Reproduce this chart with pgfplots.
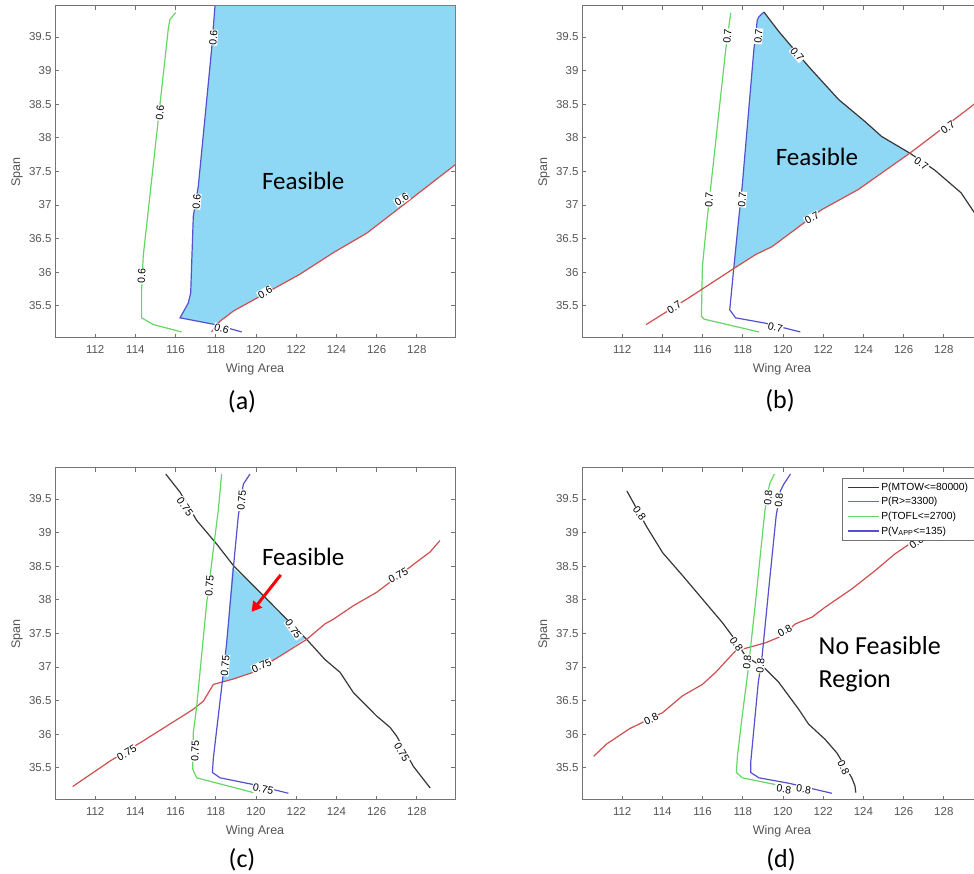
\documentclass[border=0pt]{standalone}
\usepackage{pgfplots}
\pgfplotsset{compat=1.18}
\usepackage{fontspec}
\setmainfont{Liberation Sans}
\newfontfamily\calibri{Carlito}
\usetikzlibrary{arrows.meta}
\definecolor{feas}{RGB}{142,216,246}
\definecolor{cgreen}{RGB}{100,215,100}
\definecolor{cred}{RGB}{208,78,78}
\definecolor{cblue}{RGB}{85,80,205}
\definecolor{cblack}{RGB}{55,55,55}
\definecolor{axgray}{RGB}{115,115,115}
\definecolor{tickgray}{RGB}{85,85,85}
\pgfplotsset{
  panel/.style={
    scale only axis, width=400pt, height=332pt,
    xmin=110, xmax=129.9, ymin=35.02, ymax=39.96,
    xtick={112,114,116,118,120,122,124,126,128},
    ytick={35.5,36,36.5,37,37.5,38,38.5,39,39.5},
    xtick pos=both, ytick pos=both,
    xticklabel pos=lower, yticklabel pos=left,
    tick align=inside, major tick length=4pt,
    axis line style={axgray, line width=1pt},
    every tick/.style={axgray, line width=0.7pt},
    tick label style={font=\fontsize{11.5}{12}\selectfont, text=tickgray},
    xticklabel style={yshift=-4pt},
    /pgf/number format/assume math mode=true,
    xlabel={Wing Area}, ylabel={Span},
    every axis x label/.style={at={(axis description cs:0.5,-0.093)}, anchor=center,
      font=\fontsize{12.5}{14}\selectfont, text=tickgray},
    every axis y label/.style={at={(axis description cs:-0.095,0.5)}, rotate=90, anchor=center,
      font=\fontsize{12.5}{14}\selectfont, text=tickgray},
    legend image code/.code={\draw[#1] (0pt,0pt) -- (31pt,0pt);},
  },
  cl/.style={line width=1.2pt},
}
\tikzset{
  clab/.style={fill=white, inner sep=0.6pt, text=black, font=\fontsize{10.5}{10.5}\selectfont},
  feastext/.style={font=\calibri\fontsize{25}{30}\selectfont},
  ptitle/.style={font=\calibri\fontsize{26}{30}\selectfont},
}
\begin{document}
\begin{tikzpicture}
\useasboundingbox (0,0) rectangle (974pt,874pt);
\clip (0,0) rectangle (974pt,874pt);

% ---------------- (a) ----------------
\begin{axis}[panel, at={(55pt,536pt)}, anchor=south west]
\addplot[fill=feas, draw=none] coordinates {
(117.96,39.96) (129.9,39.96) (129.9,37.6) (127.16,36.96) (125.51,36.58) (123.85,36.29)
(122.19,35.97) (120.2,35.64) (118.87,35.42) (118.21,35.27) (118.0,35.22)
(116.22,35.32) (116.63,35.54) (116.75,35.69) (116.88,36.83) (117.13,37.28)
(117.79,39.31) (117.88,39.66)};
\addplot[cl, cgreen] coordinates {(116.0,39.86) (115.72,39.76) (115.64,39.63) (114.39,36.24) (114.31,35.74) (114.31,35.32) (114.89,35.22) (116.30,35.11)};
\addplot[cl, cblue] coordinates {(117.96,39.96) (117.88,39.66) (117.79,39.31) (117.13,37.28) (116.88,36.83) (116.75,35.69) (116.63,35.54) (116.22,35.32) (117.96,35.22) (119.29,35.11)};
\addplot[cl, cred] coordinates {(117.79,35.11) (118.21,35.27) (118.87,35.42) (120.2,35.64) (122.19,35.97) (123.85,36.29) (125.51,36.58) (127.16,36.96) (129.92,37.6)};
\node[clab, rotate=84] at (axis cs:115.22,38.37) {0.6};
\node[clab, rotate=88] at (axis cs:114.31,35.94) {0.6};
\node[clab, rotate=86] at (axis cs:117.88,39.49) {0.6};
\node[clab, rotate=85] at (axis cs:117.05,37.05) {0.6};
\node[clab, rotate=-15] at (axis cs:118.29,35.16) {0.6};
\node[clab, rotate=30] at (axis cs:120.45,35.70) {0.6};
\node[clab, rotate=33] at (axis cs:127.25,37.08) {0.6};
\node[feastext] at (axis cs:122.35,37.36) {Feasible};
\end{axis}

% ---------------- (b) ----------------
\begin{axis}[panel, at={(582pt,536pt)}, anchor=south west]
\addplot[fill=feas, draw=none] coordinates {
(119.05,39.87) (119.79,39.58) (121.27,39.06) (122.76,38.57) (124.08,38.24) (124.90,38.02)
(126.31,37.77) (123.75,37.23) (121.93,36.93) (119.46,36.38) (118.63,36.26) (117.56,36.06)
(117.97,37.28) (118.55,39.31) (118.72,39.75)};
\addplot[cl, cgreen] coordinates {(117.40,39.86) (117.15,39.31) (116.41,37.28) (116.24,36.83) (115.99,36.09) (115.94,35.34) (116.08,35.30) (118.80,35.11)};
\addplot[cl, cblue] coordinates {(119.05,39.87) (118.80,39.80) (118.72,39.75) (118.55,39.31) (117.97,37.28) (117.81,36.83) (117.56,36.09) (117.35,35.44) (117.64,35.32) (119.13,35.24) (120.86,35.11)};
\addplot[cl, cblack] coordinates {(119.05,39.87) (119.79,39.58) (121.27,39.06) (122.76,38.57) (124.08,38.24) (124.90,38.02) (126.31,37.77) (127.54,37.52) (128.86,37.18) (129.6,36.85) (129.9,36.6)};
\addplot[cl, cred] coordinates {(113.19,35.22) (115.17,35.59) (117.48,36.04) (118.63,36.26) (119.46,36.38) (121.93,36.93) (123.75,37.23) (126.31,37.77) (129.39,38.47) (129.9,38.6)};
\node[clab, rotate=85] at (axis cs:117.23,39.51) {0.7};
\node[clab, rotate=87] at (axis cs:116.32,37.08) {0.7};
\node[clab, rotate=85] at (axis cs:118.77,39.51) {0.7};
\node[clab, rotate=85] at (axis cs:117.97,37.08) {0.7};
\node[clab, rotate=-12] at (axis cs:119.62,35.18) {0.7};
\node[clab, rotate=-50] at (axis cs:120.70,39.24) {0.7};
\node[clab, rotate=-35] at (axis cs:126.88,37.62) {0.7};
\node[clab, rotate=33] at (axis cs:114.59,35.47) {0.7};
\node[clab, rotate=30] at (axis cs:121.44,36.81) {0.7};
\node[clab, rotate=36] at (axis cs:128.2,38.15) {0.7};
\node[feastext] at (axis cs:121.69,37.72) {Feasible};
\end{axis}

% ---------------- (c) ----------------
\begin{axis}[panel, at={(55pt,74pt)}, anchor=south west]
\addplot[fill=feas, draw=none] coordinates {
(118.82,38.48) (119.87,38.21) (121.53,37.71) (122.44,37.42) (121.19,37.16) (119.87,36.92)
(118.87,36.82) (118.34,36.78) (118.54,37.36)};
\addplot[cl, cblack] coordinates {(115.51,39.87) (116.22,39.60) (117.05,39.18) (118.04,38.83) (118.87,38.51) (119.87,38.21) (121.53,37.71) (122.52,37.41) (123.43,37.11) (124.18,36.92) (124.84,36.62) (126.0,36.27) (126.67,36.10) (127.0,35.97) (127.83,35.52) (128.66,35.20)};
\addplot[cl, cred] coordinates {(110.88,35.22) (112.74,35.60) (114.39,35.90) (116.88,36.37) (117.38,36.49) (117.88,36.74) (118.87,36.82) (119.87,36.92) (121.19,37.16) (122.52,37.41) (123.43,37.64) (123.85,37.71) (124.84,37.91) (126.0,38.11) (127.99,38.56) (128.66,38.71) (129.15,38.88)};
\addplot[cl, cgreen] coordinates {(118.29,39.87) (118.13,39.35) (117.55,37.96) (117.05,36.42) (116.88,36.02) (116.85,35.48) (117.05,35.35) (119.87,35.13)};
\addplot[cl, cblue] coordinates {(119.70,39.87) (119.37,39.72) (119.12,39.25) (118.87,38.46) (118.54,37.36) (118.34,36.82) (117.88,35.65) (117.83,35.43) (118.21,35.35) (119.87,35.25) (121.61,35.12)};
\node[clab, rotate=-55] at (axis cs:116.47,39.38) {0.75};
\node[clab, rotate=-55] at (axis cs:121.86,37.56) {0.75};
\node[clab, rotate=-60] at (axis cs:127.25,35.73) {0.75};
\node[clab, rotate=30] at (axis cs:113.57,35.72) {0.75};
\node[clab, rotate=25] at (axis cs:120.28,37.02) {0.75};
\node[clab, rotate=28] at (axis cs:127.08,38.36) {0.75};
\node[clab, rotate=86] at (axis cs:117.68,38.21) {0.75};
\node[clab, rotate=88] at (axis cs:116.97,35.75) {0.75};
\node[clab, rotate=85] at (axis cs:119.29,39.48) {0.75};
\node[clab, rotate=85] at (axis cs:118.46,37.02) {0.75};
\node[clab, rotate=-12] at (axis cs:120.36,35.18) {0.75};
\node[feastext] at (axis cs:122.35,38.63) {Feasible};
\draw[red, line width=3pt, -{Triangle[length=10pt,width=11pt]}] (axis cs:121.23,38.37) -- (axis cs:119.78,37.82);
\end{axis}

% ---------------- (d) ----------------
\begin{axis}[panel, at={(582pt,74pt)}, anchor=south west,
  legend style={at={(0.6505,0.97)}, anchor=north west, draw=axgray, line width=0.8pt,
    font=\fontsize{10.3}{11}\selectfont, inner xsep=4.5pt, inner ysep=2.5pt, row sep=1.6pt, cells={anchor=west}}]
\addplot[cl, cblack] coordinates {(112.23,39.62) (113.19,39.10) (114.01,38.70) (115.0,38.36) (115.99,38.01) (116.98,37.66) (117.48,37.46) (118.14,37.16) (119.13,36.97) (119.79,36.77) (120.78,36.37) (121.27,36.15) (122.10,35.92) (122.68,35.72) (123.42,35.35) (123.58,35.23) (123.62,35.13)};
\addlegendentry{P(MTOW<=80000)}
\addplot[cl, cred] coordinates {(110.58,35.67) (111.21,35.85) (112.36,36.08) (114.01,36.32) (115.0,36.57) (115.99,36.74) (116.65,36.92) (117.64,37.24) (118.30,37.29) (119.13,37.36) (119.95,37.46) (120.61,37.64) (121.44,37.74) (122.10,37.89) (123.42,38.16) (124.57,38.43) (125.56,38.68) (126.39,38.85) (127.6,39.05)};
\addlegendentry{P(R>=3300)}
\addplot[cl, cgreen] coordinates {(119.57,39.87) (119.33,39.72) (119.10,39.33) (118.63,37.96) (118.27,36.97) (117.97,36.27) (117.73,35.67) (117.68,35.43) (117.97,35.35) (119.62,35.25)};
\addlegendentry{P(TOFL<=2700)}
\addplot[cl, cblue] coordinates {(120.37,39.87) (120.04,39.72) (119.87,39.62) (119.66,39.25) (119.29,38.16) (118.96,37.16) (118.77,36.77) (118.39,35.57) (118.39,35.43) (118.80,35.35) (120.28,35.27) (122.43,35.12)};
\addlegendentry{P(V\textsubscript{APP}<=135)}
\node[clab, rotate=-55] at (axis cs:112.86,39.28) {0.8};
\node[clab, rotate=-55] at (axis cs:117.68,37.34) {0.8};
\node[clab, rotate=-65] at (axis cs:123.01,35.50) {0.8};
\node[clab, rotate=27] at (axis cs:113.44,36.22) {0.8};
\node[clab, rotate=30] at (axis cs:120.09,37.54) {0.8};
\node[clab, rotate=35] at (axis cs:126.64,38.85) {0.8};
\node[clab, rotate=85] at (axis cs:119.26,39.52) {0.8};
\node[clab, rotate=85] at (axis cs:118.22,37.07) {0.8};
\node[clab, rotate=85] at (axis cs:119.79,39.48) {0.8};
\node[clab, rotate=85] at (axis cs:118.88,37.02) {0.8};
\node[clab, rotate=-8] at (axis cs:120.04,35.18) {0.8};
\node[clab, rotate=-8] at (axis cs:121.03,35.18) {0.8};
\node[font=\calibri\fontsize{26}{33}\selectfont, align=left, anchor=west] at (axis cs:121.6,37.04) {No Feasible\\Region};
\end{axis}

\node[ptitle] at (242pt,472pt) {(a)};
\node[ptitle] at (780pt,473pt) {(b)};
\node[ptitle] at (242pt,14pt) {(c)};
\node[ptitle] at (781pt,14pt) {(d)};
\end{tikzpicture}
\end{document}
